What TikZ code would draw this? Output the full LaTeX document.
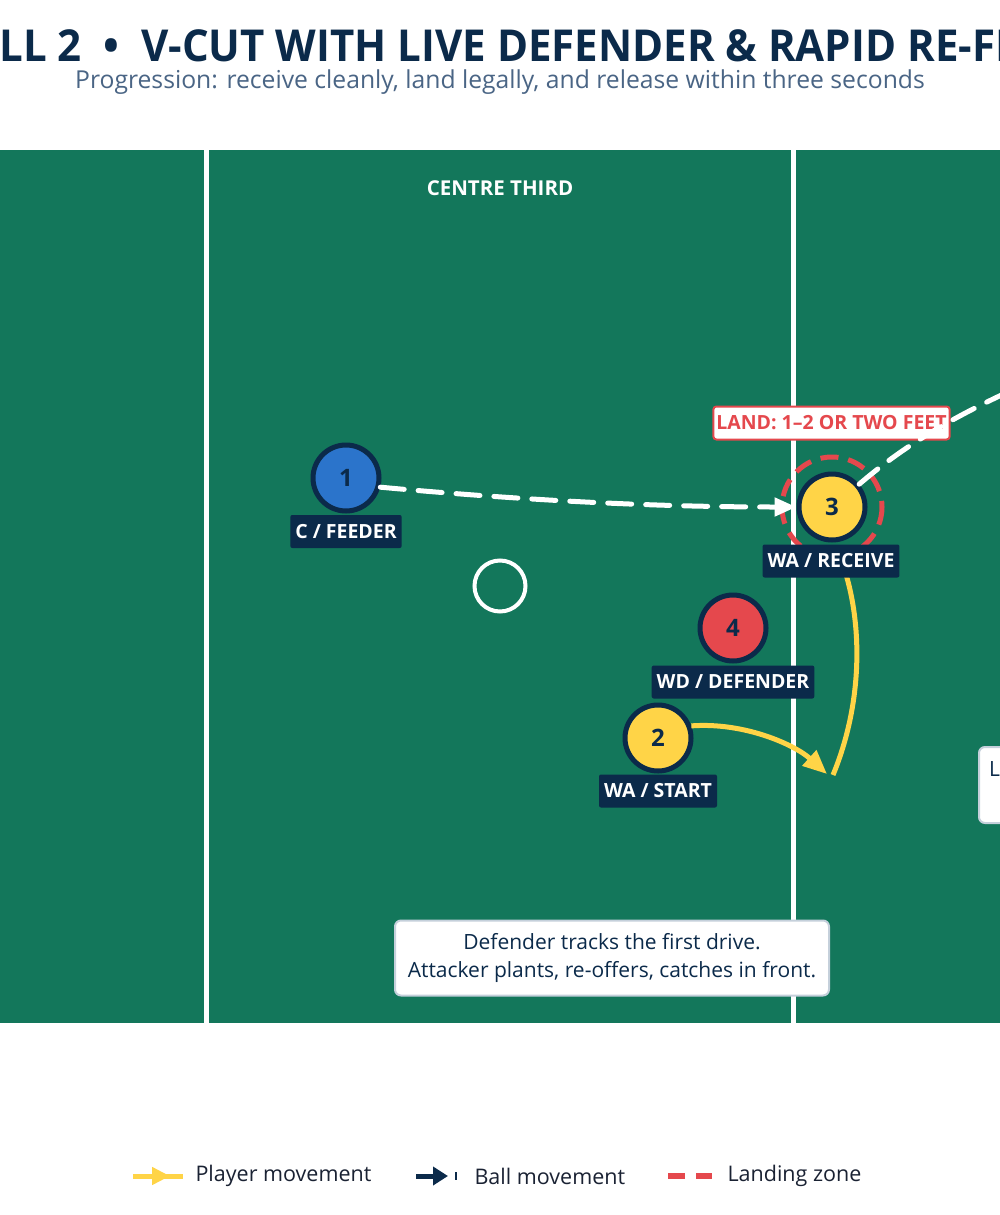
\documentclass[tikz,border=0pt]{standalone}
\usepackage{fontspec}
\setmainfont{Open Sans}
\usetikzlibrary{arrows.meta}
\definecolor{navy}{HTML}{0B2A4A}
\definecolor{court}{HTML}{13775B}
\definecolor{gold}{HTML}{FFD447}
\definecolor{alert}{HTML}{E5484D}
\definecolor{sky}{HTML}{2B74CB}
\definecolor{slate}{HTML}{4A6585}
\definecolor{mist}{HTML}{C5D0DB}
\definecolor{ink}{HTML}{1A2233}
\begin{document}
\begin{tikzpicture}[x=1pt,y=-1pt,
    player/.style={circle,draw=navy,line width=5pt,minimum size=66pt,inner sep=0pt,text=navy,font=\bfseries\fontsize{24}{24}\selectfont},
    tag/.style={fill=navy,text=white,rounded corners=2pt,inner xsep=5pt,inner ysep=0pt,minimum height=33pt,font=\bfseries\fontsize{19.5}{19.5}\selectfont},
    note/.style={fill=white,draw=mist,line width=2pt,rounded corners=6pt,text=navy,font=\fontsize{21}{28}\selectfont},
    pass/.style={white,line width=5pt,line cap=round,dash pattern=on 24pt off 14pt},
    run/.style={gold,line width=5pt},
    key/.style={anchor=west,text=ink,font=\fontsize{21.5}{21.5}\selectfont}]
    \useasboundingbox (0,0) rectangle (1000,1215);
    \fill[white] (0,0) rectangle (1000,1215);

    \node[anchor=base,inner sep=0pt] (title) at (500,62) {\textcolor{navy}{\scalebox{0.955}[1]{\bfseries\fontsize{44}{44}\selectfont DRILL 2~~•~~V-CUT WITH LIVE DEFENDER \& RAPID RE-FEED}}};
    \node[anchor=base,inner sep=0pt] (sub) at (500,88.5) {\textcolor{slate}{\fontsize{24.7}{24.7}\selectfont Progression: receive cleanly, land legally, and release within three seconds}};

    \fill[court] (-20,150) rectangle (1020,1023);
    \draw[white,line width=5pt] (206.5,150) -- (206.5,1023);
    \draw[white,line width=5pt] (793.5,150) -- (793.5,1023);
    \node[text=white,font=\bfseries\fontsize{20.5}{20.5}\selectfont] (third) at (500,188) {CENTRE THIRD};
    \draw[white,line width=4pt] (500,586) circle (25.5);

    \draw[alert,line width=5pt,dash pattern=on 18pt off 10pt] (832,507) circle (50);

    \node[player,fill=sky] (p1) at (346,478) {1};
    \node[player,fill=gold] (p3) at (832,507) {3};
    \node[player,fill=alert] (p4) at (733,628) {4};
    \node[player,fill=gold] (p2) at (658,738) {2};

    \coordinate (plant) at (833,775);
    \coordinate (out) at (1070,365);
    \draw[run,-{Triangle[length=24pt,width=20pt]}] (p2.20) .. controls (745,722) and (795,745) .. (827,774);
    \draw[run] (plant) .. controls (864,700) and (862,620) .. (843,565);

    \draw[pass,-{Triangle[length=22pt,width=18pt]}] (p1.-15) .. controls (520,500) and (650,507) .. (p3.west);

    \node[tag] (t1) at (346,531.5) {C / FEEDER};
    \node[tag] (t3) at (831,561) {WA / RECEIVE};
    \node[tag] (t4) at (733,682) {WD / DEFENDER};
    \node[tag] (t2) at (658,791) {WA / START};

    \node[fill=white,draw=alert,line width=2pt,rounded corners=3pt,text=alert,minimum height=33pt,inner xsep=3pt,font=\bfseries\fontsize{19.5}{19.5}\selectfont] (land) at (831.5,423) {LAND: 1–2 OR TWO FEET};
    \draw[pass] (p3.40) .. controls (905,445) and (960,410) .. (out);

    \node[note,align=center,minimum width=434pt,minimum height=75pt] (cue) at (612,958) {Defender tracks the first drive.\\Attacker plants, re-offers, catches in front.};
    \node[note,align=center,anchor=north west,minimum height=76pt,inner xsep=10pt] (cue2) at (978,746) {Land balanced, then release it fast\\to the open player.};

    \draw[run] (133,1176) -- (183,1176);
    \draw[run,-{Triangle[length=18pt,width=17pt]}] (133,1176) -- (170,1176);
    \node[key] (k1) at (192,1176) {Player movement};
    \draw[navy,line width=5pt,-{Triangle[length=15pt,width=18pt]}] (416,1176) -- (448,1176);
    \draw[navy,line width=2pt] (456,1172) -- (456,1180);
    \node[key] (k2) at (471,1176) {Ball movement};
    \draw[alert,line width=6pt,dash pattern=on 17pt off 11pt] (668,1176) -- (712,1176);
    \node[key] (k3) at (724,1176) {Landing zone};
\end{tikzpicture}
\end{document}
